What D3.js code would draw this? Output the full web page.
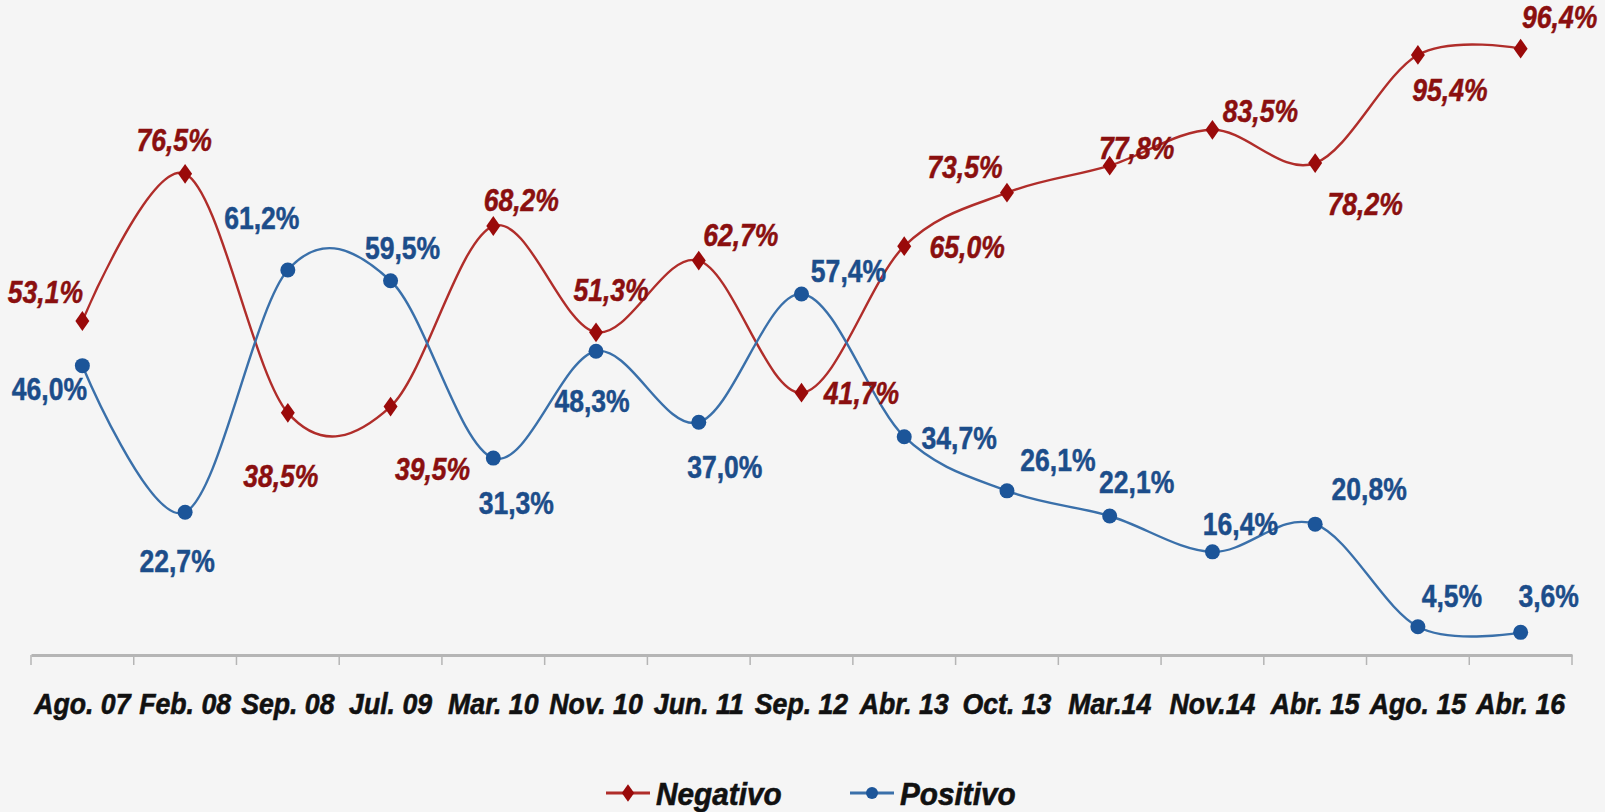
<!DOCTYPE html>
<html><head><meta charset="utf-8">
<script src="https://cdn.jsdelivr.net/npm/d3@7"></script>
<style>
html,body{margin:0;padding:0;background:#f5f5f5;}
svg{display:block;}
</style></head>
<body>
<svg id="chart" width="1605" height="812"></svg>
<script>
const categories = ["Ago. 07","Feb. 08","Sep. 08","Jul. 09","Mar. 10","Nov. 10","Jun. 11","Sep. 12","Abr. 13","Oct. 13","Mar.14","Nov.14","Abr. 15","Ago. 15","Abr. 16"];
const negativo = [53.1,76.5,38.5,39.5,68.2,51.3,62.7,41.7,65.0,73.5,77.8,83.5,78.2,95.4,96.4];
const positivo = [46.0,22.7,61.2,59.5,31.3,48.3,37.0,57.4,34.7,26.1,22.1,16.4,20.8,4.5,3.6];
const seriesNames = ["Negativo","Positivo"];

// label placement offsets (layout only)
const negOffsets = [[-37,-30],[-11,-34],[-7,63],[42,62],[28,-27],[15,-43],[42,-26],[60,0],[63,0],[-42,-26],[27,-18],[48,-19],[50,40],[32,35],[39,-32]];
const posOffsets = [[-33,23],[-8,48],[-26,-53],[12,-33],[23,44],[-4,49],[26,44],[47,-23],[55,1],[51,-31],[27,-35],[28,-28],[54,-36],[34,-31],[28,-37]];

const svg = d3.select("#chart");
const fmt = v => d3.format(".1f")(v).replace(".", ",") + "%";

const x = d3.scaleBand().domain(categories).range([31, 1572]);
const y = d3.scaleLinear().domain([0, 100]).range([655, 26]);
const cx = c => x(c) + x.bandwidth() / 2;

const RED_LINE = "#b02d2a", RED_MARK = "#9a0a0a", RED_TEXT = "#8a0f0f";
const BLUE_LINE = "#3a70aa", BLUE_MARK = "#1c5599", BLUE_TEXT = "#1c4d8a";
const FONT = "Liberation Sans, Arial, sans-serif";

// axis
const axis = d3.axisBottom(x).tickSize(0).tickSizeOuter(0).tickFormat("");
const gAxis = svg.append("g").attr("transform", "translate(0,655)").call(axis);
gAxis.select(".domain").attr("stroke", "#b5b5b5").attr("stroke-width", 3);
gAxis.selectAll(".tick").remove();
const bounds = categories.map(c => x(c)).concat([x.range()[1]]);
gAxis.selectAll(".btick").data(bounds).enter().append("line")
  .attr("x1", d => d).attr("x2", d => d).attr("y1", 0).attr("y2", 10)
  .attr("stroke", "#b5b5b5").attr("stroke-width", 1.5);

// category labels
svg.append("g").selectAll("text").data(categories).enter().append("text")
  .attr("transform", d => `translate(${cx(d)},714) scale(0.92,1)`)
  .attr("text-anchor", "middle")
  .attr("font-family", FONT)
  .attr("font-weight", "bold").attr("font-style", "italic")
  .attr("font-size", 29).attr("fill", "#111")
  .attr("stroke", "#111").attr("stroke-width", 0.6)
  .text(d => d);

const line = d3.line().curve(d3.curveCardinal.tension(0));

function drawSeries(values, color, width) {
  svg.append("path")
    .attr("d", line(values.map((v, i) => [cx(categories[i]), y(v)])))
    .attr("fill", "none").attr("stroke", color).attr("stroke-width", width);
}
drawSeries(negativo, RED_LINE, 2.4);
drawSeries(positivo, BLUE_LINE, 2.4);

// markers
const diamond = d3.symbol().type(d3.symbolDiamond).size(140);
svg.append("g").selectAll("path").data(negativo).enter().append("path")
  .attr("d", diamond)
  .attr("transform", (d, i) => `translate(${cx(categories[i])},${y(d)}) scale(1.1,0.9)`)
  .attr("fill", RED_MARK);
svg.append("g").selectAll("circle").data(positivo).enter().append("circle")
  .attr("cx", (d, i) => cx(categories[i])).attr("cy", d => y(d)).attr("r", 7.5)
  .attr("fill", BLUE_MARK);

// value labels
function drawLabels(values, offsets, color, italic) {
  svg.append("g").selectAll("text").data(values).enter().append("text")
    .attr("transform", (d, i) => `translate(${cx(categories[i]) + offsets[i][0]},${y(d) + offsets[i][1]}) scale(0.83,1)`)
    .attr("dy", "0.36em")
    .attr("text-anchor", "middle")
    .attr("font-family", FONT)
    .attr("font-weight", "bold").attr("font-style", italic ? "italic" : "normal")
    .attr("font-size", 32).attr("fill", color)
    .attr("stroke", color).attr("stroke-width", 0.5)
    .text(d => fmt(d));
}
drawLabels(negativo, negOffsets, RED_TEXT, true);
drawLabels(positivo, posOffsets, BLUE_TEXT, false);

// legend
const legend = svg.append("g");
const legendItems = [
  {name: seriesNames[0], x0: 606, color: RED_LINE, mark: RED_MARK, type: "diamond"},
  {name: seriesNames[1], x0: 850, color: BLUE_LINE, mark: BLUE_MARK, type: "circle"}
];
legendItems.forEach(it => {
  const g = legend.append("g").attr("transform", `translate(${it.x0},793)`);
  g.append("line").attr("x1", 0).attr("x2", 44).attr("y1", 0).attr("y2", 0)
    .attr("stroke", it.color).attr("stroke-width", 3);
  if (it.type === "diamond") {
    g.append("path").attr("d", d3.symbol().type(d3.symbolDiamond).size(110)).attr("transform", "translate(22,0) scale(1.1,0.9)").attr("fill", it.mark);
  } else {
    g.append("circle").attr("cx", 22).attr("cy", 0).attr("r", 6).attr("fill", it.mark);
  }
  g.append("text").attr("transform", "translate(50,0) scale(0.93,1)").attr("dy", "0.36em")
    .attr("font-family", FONT)
    .attr("font-weight", "bold").attr("font-style", "italic")
    .attr("font-size", 32).attr("fill", "#111")
    .attr("stroke", "#111").attr("stroke-width", 0.6)
    .text(it.name);
});
</script>
</body></html>
